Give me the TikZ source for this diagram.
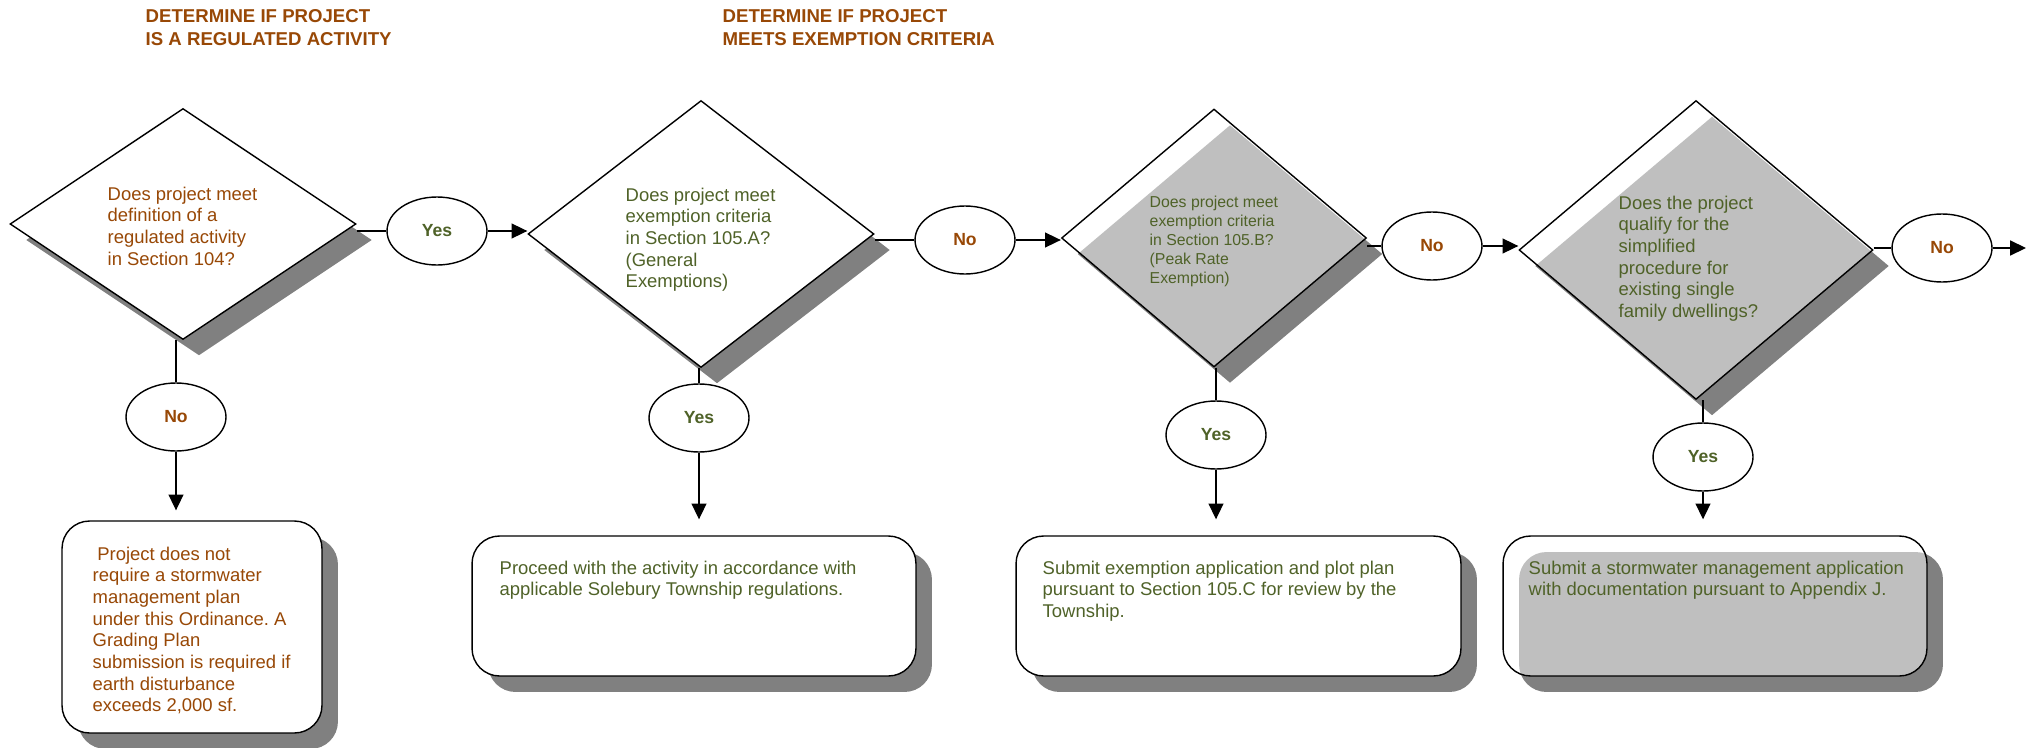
\documentclass[tikz,border=0pt]{standalone}
\usepackage{fontspec}
\setmainfont{Liberation Sans}
\usetikzlibrary{shapes.geometric,shadows,arrows.meta}
\definecolor{brn}{HTML}{984806}
\definecolor{olv}{HTML}{4F6228}
\definecolor{ltgray}{HTML}{BFBFBF}
\definecolor{dkgray}{HTML}{808080}
\frenchspacing

\begin{document}
\begin{tikzpicture}[>={Triangle[length=9pt,width=8.5pt]},x=0.02cm,y=-0.02cm,line width=0.8pt,
	shd/.style={drop shadow={shadow xshift=0.32cm,shadow yshift=-0.32cm,fill=dkgray,opacity=1}},
	dec/.style={diamond,draw,fill=white,inner sep=0pt,shd},
	decgray/.style={dec,path picture={\fill[ltgray] ([shift={(16,16)}]path picture bounding box.north) -- ([shift={(16,16)}]path picture bounding box.east) -- ([shift={(16,16)}]path picture bounding box.south) -- ([shift={(16,16)}]path picture bounding box.west) -- cycle;}},
	box/.style={rectangle,rounded corners=0.55cm,draw,fill=white,inner sep=0pt,shd},
	boxgray/.style={box,path picture={\fill[ltgray,rounded corners=0.55cm] ([shift={(16,16)}]path picture bounding box.south west) rectangle ([shift={(16,16)}]path picture bounding box.north east);}},
	yn/.style={ellipse,draw,fill=white,inner sep=0pt,minimum width=2cm,minimum height=1.36cm,font=\fontsize{10}{12}\selectfont\bfseries},
	qtext/.style={anchor=north west,inner sep=0pt,align=left,font=\fontsize{10.5}{12.35}\selectfont},
	ttl/.style={anchor=north west,inner sep=0pt,align=left,text=brn,font=\fontsize{10.6}{13.1}\selectfont\bfseries}]
	\useasboundingbox (0,0) rectangle (2028,747);
	% headings
	\node[ttl] (h1) at (145,9) {DETERMINE IF PROJECT\\IS A REGULATED ACTIVITY};
	\node[ttl] (h2) at (722,9) {DETERMINE IF PROJECT\\MEETS EXEMPTION CRITERIA};
	% decisions
	\node[dec,minimum width=6.92cm,minimum height=4.62cm] (d1) at (183,224) {};
	\node[dec,minimum width=6.92cm,minimum height=5.34cm] (d2) at (701,234) {};
	\node[decgray,minimum width=6.1cm,minimum height=5.16cm] (d3) at (1214,238) {};
	\node[decgray,minimum width=7.08cm,minimum height=5.98cm] (d4) at (1696,250) {};
	\node[qtext,text=brn] (q1) at (107,186) {Does project meet\\definition of a\\regulated activity\\in Section 104?};
	\node[qtext,text=olv] (q2) at (625,187) {Does project meet\\exemption criteria\\in Section 105.A?\\(General\\Exemptions)};
	\node[qtext,text=olv,font=\fontsize{9}{10.8}\selectfont] (q3) at (1149,195) {Does project meet\\exemption criteria\\in Section 105.B?\\(Peak Rate\\Exemption)};
	\node[qtext,text=olv] (q4) at (1618,195) {Does the project\\qualify for the\\simplified\\procedure for\\existing single\\family dwellings?};
	% answers
	\node[yn,text=olv] (y1) at (437,231) {Yes};
	\node[yn,text=brn] (n1) at (965,240) {No};
	\node[yn,text=brn] (n2) at (1432,246) {No};
	\node[yn,text=brn] (n3) at (1942,248) {No};
	\node[yn,text=brn] (n0) at (176,417) {No};
	\node[yn,text=olv] (y2) at (699,418) {Yes};
	\node[yn,text=olv] (y3) at (1216,435) {Yes};
	\node[yn,text=olv] (y4) at (1703,457) {Yes};
	\coordinate (out) at (2026,248);
	% outcomes
	\node[box,minimum width=5.2cm,minimum height=4.24cm] (b1) at (192,627) {};
	\node[box,minimum width=8.88cm,minimum height=2.8cm] (b2) at (694,606) {};
	\node[box,minimum width=8.9cm,minimum height=2.8cm] (b3) at (1238.5,606) {};
	\node[boxgray,minimum width=8.48cm,minimum height=2.8cm] (b4) at (1715,606) {};
	\node[qtext,text=brn] (r1) at (92,546) {\hspace*{0.25em}Project does not\\require a stormwater\\management plan\\under this Ordinance. A\\Grading Plan\\submission is required if\\earth disturbance\\exceeds 2,000 sf.};
	\node[qtext,text=olv] (r2) at (499,560) {Proceed with the activity in accordance with\\applicable Solebury Township regulations.};
	\node[qtext,text=olv] (r3) at (1042,560) {Submit exemption application and plot plan\\pursuant to Section 105.C for review by the\\Township.};
	\node[qtext,text=olv] (r4) at (1528,560) {Submit a stormwater management application\\with documentation pursuant to Appendix J.};
	% connectors
	\draw (d1.east |- y1.west) -- (y1.west);
	\draw[->] (y1.east) -- (y1.east -| d2.west);
	\draw (d2.east |- n1.west) -- (n1.west);
	\draw[->] (n1.east) -- (n1.east -| d3.west);
	\draw (d3.east |- n2.west) -- (n2.west);
	\draw[->] (n2.east) -- (n2.east -| d4.west);
	\draw (d4.east |- n3.west) -- (n3.west);
	\draw[->] (n3.east) -- (out);
	\draw (n0.north |- d1.south) -- (n0.north);
	\draw[->,shorten >=0.2cm] (n0.south) -- (n0.south |- b1.north);
	\draw (y2.north |- d2.south) -- (y2.north);
	\draw[->,shorten >=0.32cm] (y2.south) -- (y2.south |- b2.north);
	\draw (y3.north |- d3.south) -- (y3.north);
	\draw[->,shorten >=0.32cm] (y3.south) -- (y3.south |- b3.north);
	\draw (y4.north |- d4.south) -- (y4.north);
	\draw[->,shorten >=0.32cm] (y4.south) -- (y4.south |- b4.north);
\end{tikzpicture}
\end{document}
